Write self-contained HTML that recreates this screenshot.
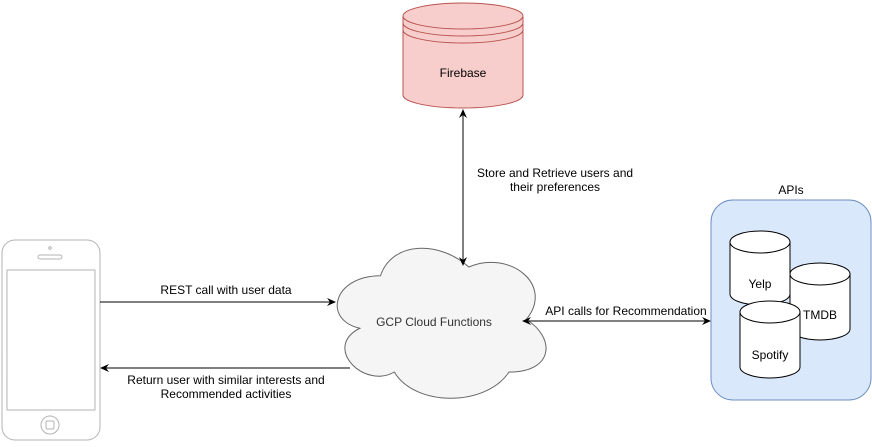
<!DOCTYPE html>
<html><head><style>
html,body{margin:0;padding:0;background:#fff;}
svg text{font-family:"Liberation Sans",Arial,sans-serif;font-size:12px;fill:#000;}
</style></head><body>
<svg width="872" height="442" viewBox="0 0 872 442" xmlns="http://www.w3.org/2000/svg">
<defs>
<marker id="a" markerWidth="10" markerHeight="10" refX="8" refY="5" orient="auto-start-reverse" markerUnits="userSpaceOnUse">
<path d="M0,1 L9,5 L0,9 L3,5 Z" fill="#000"/>
</marker>
</defs>
<g stroke="#b85450" fill="#f8cecc" stroke-width="1">
<path d="M403,16 A60,13 0 0 1 523,16 L523,95 A60,13 0 0 1 403,95 Z"/>
<path d="M403,16 A60,13 0 0 0 523,16" fill="none"/>
<path d="M403,23 A60,13 0 0 0 523,23" fill="none"/>
<path d="M403,30 A60,13 0 0 0 523,30" fill="none"/>
</g>
<text x="463" y="77" text-anchor="middle">Firebase</text>
<g stroke="#b3b3b3" fill="#fff" stroke-width="1">
<rect x="2" y="240" width="98" height="200" rx="13"/>
<rect x="7" y="270" width="88" height="140"/>
<rect x="38" y="255" width="24" height="4" rx="2"/>
<circle cx="50" cy="248" r="1.3"/>
<circle cx="50" cy="425" r="9"/>
<rect x="46" y="421" width="8" height="8" rx="1.5"/>
</g>
<path d="M380.5,275.75 C333.5,275.75 322,319.5 359.8,328.25 C322,347.5 364.4,389.5 394.3,372 C415,407 486,407 509,372 C555,372 555,337 526.25,319.5 C555,284.5 509,249.5 468.75,267 C440,240.75 392,240.75 380.5,275.75 Z" fill="#f5f5f5" stroke="#666" stroke-width="1"/>
<text x="434" y="326" text-anchor="middle" style="fill:#333">GCP Cloud Functions</text>
<rect x="711" y="200" width="160" height="200" rx="22" fill="#dae8fc" stroke="#6c8ebf"/>
<text x="791" y="194" text-anchor="middle">APIs</text>
<g stroke="#000" fill="#fff" stroke-width="1">
<path d="M730,242 A30,11 0 0 1 790,242 L790,294 A30,11 0 0 1 730,294 Z"/>
<path d="M730,242 A30,11 0 0 0 790,242" fill="none"/>
</g>
<text x="760" y="288" text-anchor="middle">Yelp</text>
<g stroke="#000" fill="#fff" stroke-width="1">
<path d="M790,274 A30,11 0 0 1 850,274 L850,329 A30,11 0 0 1 790,329 Z"/>
<path d="M790,274 A30,11 0 0 0 850,274" fill="none"/>
</g>
<text x="820" y="319" text-anchor="middle">TMDB</text>
<g stroke="#000" fill="#fff" stroke-width="1">
<path d="M740,312 A30,11 0 0 1 800,312 L800,367 A30,11 0 0 1 740,367 Z"/>
<path d="M740,312 A30,11 0 0 0 800,312" fill="none"/>
</g>
<text x="770" y="359" text-anchor="middle">Spotify</text>
<g stroke="#000" stroke-width="1" fill="none">
<line x1="100" y1="302" x2="335" y2="302" marker-end="url(#a)"/>
<line x1="350" y1="368" x2="101" y2="368" marker-end="url(#a)"/>
<line x1="463" y1="110" x2="463" y2="265" marker-start="url(#a)" marker-end="url(#a)"/>
<line x1="523" y1="321" x2="710" y2="321" marker-start="url(#a)" marker-end="url(#a)"/>
</g>
<text x="226" y="294" text-anchor="middle">REST call with user data</text>
<text x="226" y="384" text-anchor="middle">Return user with similar interests and</text>
<text x="226" y="398" text-anchor="middle">Recommended activities</text>
<text x="555" y="177" text-anchor="middle">Store and Retrieve users and</text>
<text x="555" y="191" text-anchor="middle">their preferences</text>
<text x="626" y="315" text-anchor="middle">API calls for Recommendation</text>
</svg>
</body></html>
